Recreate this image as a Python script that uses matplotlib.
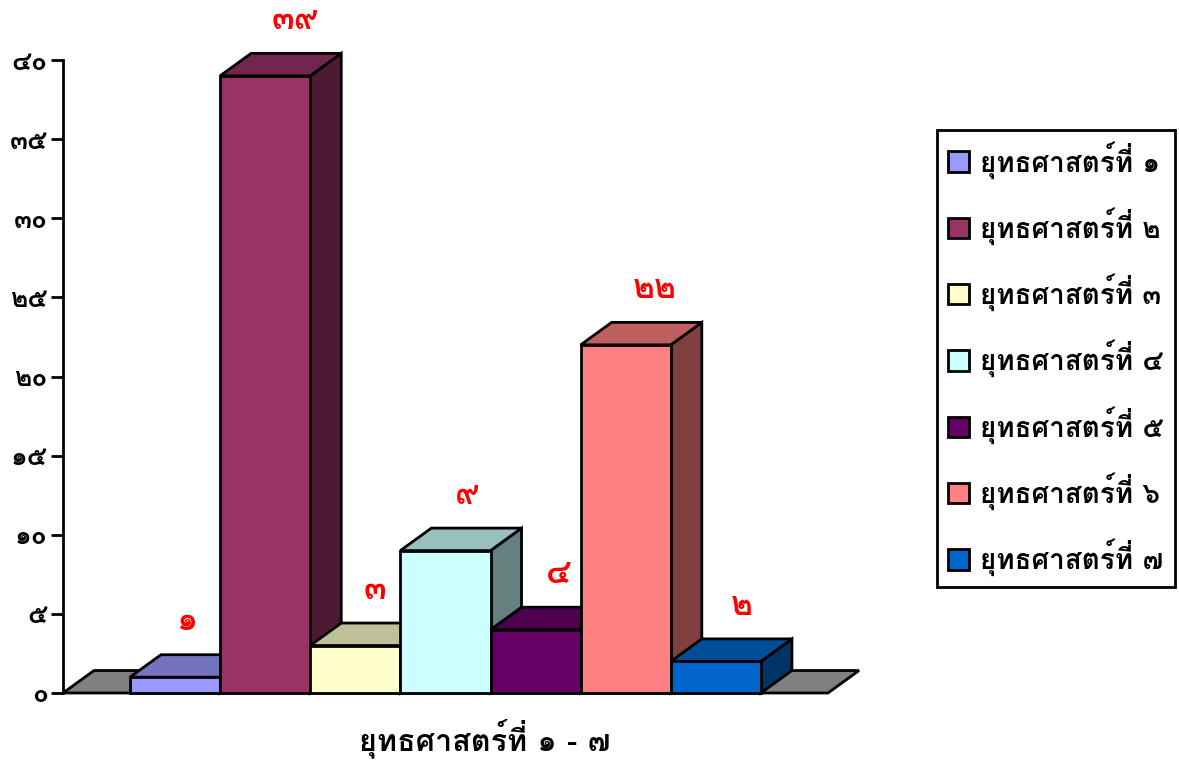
import matplotlib
matplotlib.use("Agg")
import matplotlib.pyplot as plt
from matplotlib.patches import Patch, Polygon
from matplotlib.colors import to_rgb

plt.rcParams["font.family"] = ["Loma", "DejaVu Sans"]
plt.rcParams["font.weight"] = "bold"

# data
strategies = ["ยุทธศาสตร์ที่ ๑", "ยุทธศาสตร์ที่ ๒", "ยุทธศาสตร์ที่ ๓", "ยุทธศาสตร์ที่ ๔",
              "ยุทธศาสตร์ที่ ๕", "ยุทธศาสตร์ที่ ๖", "ยุทธศาสตร์ที่ ๗"]
values = [1, 39, 3, 9, 4, 22, 2]
value_labels = ["๑", "๓๙", "๓", "๙", "๔", "๒๒", "๒"]
colors = ["#9999FF", "#993366", "#FFFFCC", "#CCFFFF", "#660066", "#FF8080", "#0066CC"]
y_ticks = [0, 5, 10, 15, 20, 25, 30, 35, 40]
y_tick_labels = ["๐", "๕", "๑๐", "๑๕", "๒๐", "๒๕", "๓๐", "๓๕", "๔๐"]
x_title = "ยุทธศาสตร์ที่ ๑ - ๗"

W, H = 1179, 762
LW = 2.0
# 3d look: depth of the fake perspective in data units
DX, DY = 0.344, 1.42
# per bar label shift in pixels, from bar centre
label_dx = [13, 30, 20, 22, 23, 29, 26]


def shade(color, f):
    return tuple(c * f for c in to_rgb(color))


fig = plt.figure(figsize=(W / 100, H / 100), dpi=100)
ax = fig.add_axes([63 / W, 1 - 693 / H, 765 / W, 633 / H])
ax.set_xlim(-0.743, 7.744)
ax.set_ylim(0, 40)

# floor
floor = [(-0.743, 0), (7.744, 0), (7.744 + DX, DY), (-0.743 + DX, DY)]
ax.add_patch(Polygon(floor, facecolor="#808080", edgecolor="black", lw=LW, clip_on=False, zorder=1))

for i, (v, c) in enumerate(zip(values, colors)):
    z = 2 + i
    ax.add_patch(Polygon([(i + 1, 0), (i + 1 + DX, DY), (i + 1 + DX, v + DY), (i + 1, v)],
                         facecolor=shade(c, 0.5), edgecolor="black", lw=LW, clip_on=False, zorder=z))
    ax.add_patch(Polygon([(i, v), (i + 1, v), (i + 1 + DX, v + DY), (i + DX, v + DY)],
                         facecolor=shade(c, 0.75), edgecolor="black", lw=LW, clip_on=False, zorder=z))
    ax.bar(i, v, width=1, align="edge", color=c, edgecolor="black", lw=LW, clip_on=False, zorder=z)
    ax.annotate(value_labels[i], (i + 0.5, v + DY), xytext=(label_dx[i] * 0.72, 24), textcoords="offset points",
                ha="center", va="center", color="red", fontsize=24, annotation_clip=False, zorder=20)

for s in ["top", "right", "bottom"]:
    ax.spines[s].set_visible(False)
ax.spines["left"].set_linewidth(LW)
ax.set_xticks([])
ax.set_yticks(y_ticks)
ax.set_yticklabels(y_tick_labels, fontsize=19)
ax.tick_params(axis="y", length=9, width=LW, pad=2)
ax.set_xlabel(x_title, fontsize=22, weight="bold", x=(485 - 63) / 765, labelpad=18)

handles = [Patch(facecolor=c, edgecolor="black", lw=LW) for c in colors]
fig.legend(handles, strategies, loc="upper left", bbox_to_anchor=(937 / W, 1 - 130 / H), borderaxespad=0,
           fancybox=False, edgecolor="black", framealpha=1, fontsize=20, handlelength=0.75, handleheight=0.75,
           handletextpad=0.42, labelspacing=1.03, borderpad=0.39).get_frame().set_linewidth(LW)

fig.savefig("out.png", dpi=100)
